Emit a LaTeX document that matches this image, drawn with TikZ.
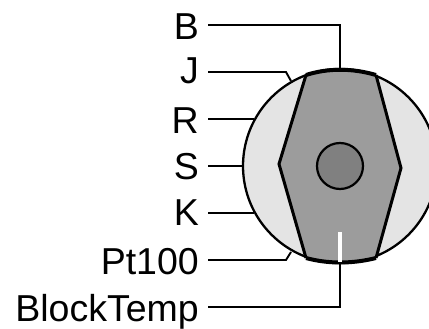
\documentclass[tikz,border=0pt]{standalone}
\usepackage{fontspec}
\setmainfont{Liberation Sans}
\definecolor{discgray}{HTML}{E4E4E4}
\definecolor{blockgray}{HTML}{9C9C9C}
\definecolor{coregray}{HTML}{808080}
\tikzset{
  lbl/.style={anchor=base east, inner sep=0pt, font=\fontsize{37.5}{40}\selectfont},
  lead/.style={line width=1.9pt},
  part/.style={draw, circle, inner sep=0pt}
}

\begin{document}
\begin{tikzpicture}[x=1pt, y=-1pt]
\clip (0,0) rectangle (429,329);
\node[part, line width=2.3pt, fill=discgray, minimum size=194pt](disc) at (340,166){};
\coordinate (tl) at (306,75);
\coordinate (tr) at (376,75);
\coordinate (rr) at (401,168);
\coordinate (br) at (376,258);
\coordinate (bl) at (306,258);
\coordinate (ll) at (279,164);
\fill[blockgray] (tl) .. controls (328,68) and (352,68) .. (tr) -- (rr) -- (br)
  .. controls (352,264) and (328,264) .. (bl) -- (ll) -- cycle;
\draw[line width=3pt] (tr) -- (rr) -- (br);
\draw[line width=3pt] (bl) -- (ll) -- (tl);
\draw[line width=4pt] (tl) .. controls (328,68) and (352,68) .. (tr);
\draw[line width=4pt] (bl) .. controls (328,264) and (352,264) .. (br);
\node[part, line width=2.2pt, fill=coregray, minimum size=46pt](core) at (340,166){};
\node[fill=white, inner sep=0pt, minimum width=4pt, minimum height=30pt](slot) at (340,247){};
\node[lbl](b) at (199,40){B};
\node[lbl](j) at (199,84){J};
\node[lbl](r) at (199,133){R};
\node[lbl](s) at (199,179){S};
\node[lbl](k) at (199,225){K};
\node[lbl](pt) at (199,274){Pt100};
\node[lbl](bt) at (199,321){BlockTemp};
\coordinate (b0) at (208,25);
\coordinate (j0) at (208,72);
\coordinate (r0) at (208,119);
\coordinate (s0) at (208,166);
\coordinate (k0) at (208,213);
\coordinate (p0) at (208,260);
\coordinate (t0) at (208,307);
\coordinate (j1) at (286,72);
\coordinate (j2) at (291,81);
\coordinate (p1) at (286,260);
\coordinate (p2) at (291,252);
\draw[lead] (b0) -| (disc.north);
\draw[lead] (j0) -- (j1) -- (j2);
\draw[lead] (r0) -- (r0 -| 254,0);
\draw[lead] (s0) -- (disc.west);
\draw[lead] (k0) -- (k0 -| 254,0);
\draw[lead] (p0) -- (p1) -- (p2);
\draw[lead] (t0) -| (disc.south);
\end{tikzpicture}
\end{document}
